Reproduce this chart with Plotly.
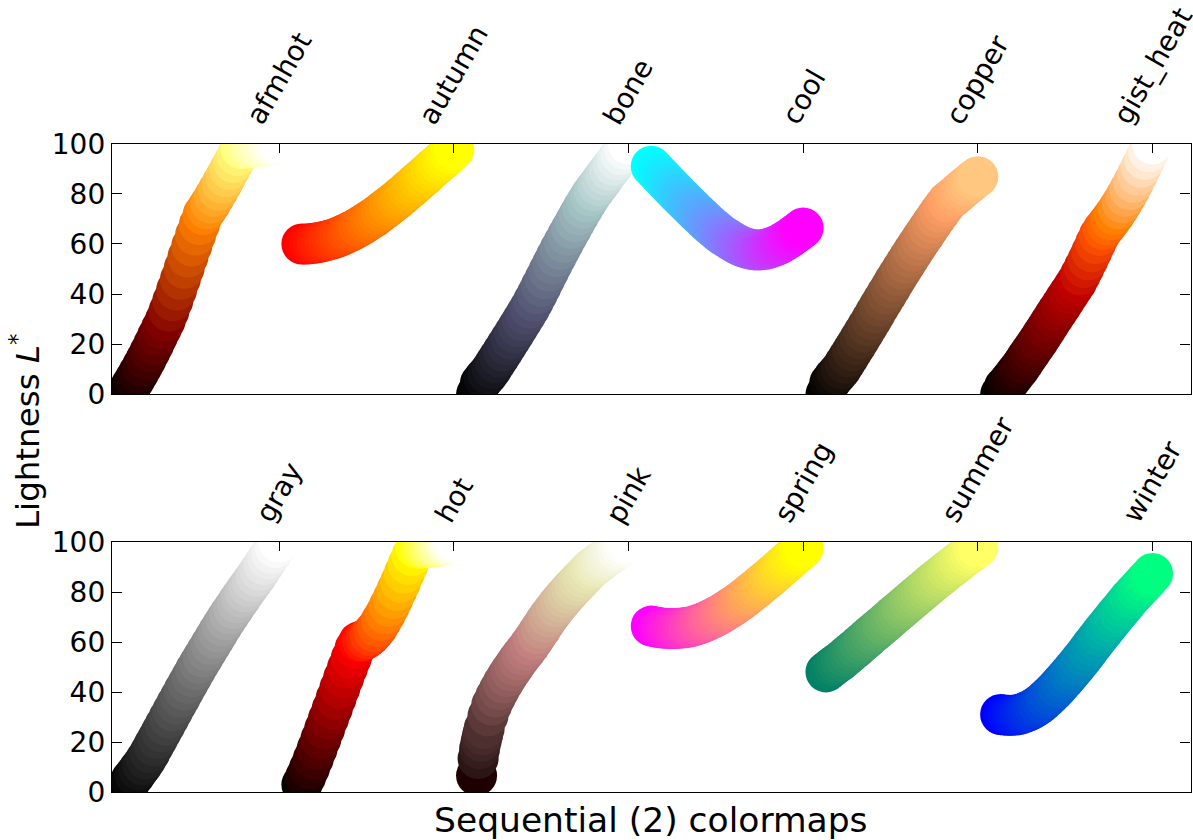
import plotly.graph_objects as go

# ---------------- data ----------------
TOP_NAMES = ["afmhot", "autumn", "bone", "cool", "copper", "gist_heat"]
BOTTOM_NAMES = ["gray", "hot", "pink", "spring", "summer", "winter"]

# colormap parameter values at which lightness was read
T = [0.000, 0.025, 0.050, 0.075, 0.100, 0.125, 0.150, 0.175, 0.200, 0.225,
     0.250, 0.275, 0.300, 0.325, 0.350, 0.375, 0.400, 0.425, 0.450, 0.475,
     0.500, 0.525, 0.550, 0.575, 0.600, 0.625, 0.650, 0.675, 0.700, 0.725,
     0.750, 0.775, 0.800, 0.825, 0.850, 0.875, 0.900, 0.925, 0.950, 0.975,
     1.000]
T_PINK = [0.000, 0.010, 0.020, 0.030, 0.040, 0.050, 0.075, 0.100, 0.125,
          0.150, 0.175, 0.200, 0.225, 0.250, 0.275, 0.300, 0.325, 0.350,
          0.375, 0.400, 0.425, 0.450, 0.475, 0.500, 0.525, 0.550, 0.575,
          0.600, 0.625, 0.650, 0.675, 0.700, 0.725, 0.750, 0.775, 0.800,
          0.825, 0.850, 0.875, 0.900, 0.925, 0.950, 0.975, 1.000]

# lightness L* of each colormap
L_AFMHOT = [0.0, 3.4, 5.9, 8.5, 11.2, 14.0, 17.0, 20.0, 23.2, 26.3, 29.4,
            33.2, 37.3, 41.6, 45.9, 50.3, 54.8, 59.2, 63.5, 67.7, 71.7, 74.0,
            76.3, 78.9, 81.5, 84.2, 86.9, 89.7, 92.5, 95.3, 98.1, 98.2, 98.4,
            98.5, 98.7, 98.85, 99.0, 99.25, 99.5, 99.7, 100.0]
L_AUTUMN = [60.0, 60.0, 60.1, 60.3, 60.5, 60.8, 61.1, 61.5, 61.9, 62.4, 63.0,
            63.7, 64.4, 65.1, 65.9, 66.8, 67.7, 68.7, 69.7, 70.6, 71.7, 72.9,
            74.0, 75.2, 76.4, 77.6, 78.9, 80.1, 81.5, 82.7, 84.1, 85.4, 86.7,
            88.1, 89.5, 90.8, 92.1, 93.5, 94.9, 96.2, 97.6]
L_BONE = [0.0, 4.4, 6.4, 8.1, 10.2, 12.6, 14.9, 17.3, 19.7, 22.1, 24.5, 27.0,
          29.4, 31.9, 34.4, 37.2, 40.1, 43.1, 46.1, 49.1, 52.1, 55.0, 57.9,
          60.7, 63.5, 66.2, 68.9, 71.6, 74.2, 76.7, 79.2, 81.3, 83.3, 85.4,
          87.5, 89.5, 91.5, 93.6, 95.7, 97.9, 100.0]
L_COOL = [91.0, 89.4, 87.8, 86.2, 84.6, 83.0, 81.5, 79.9, 78.4, 76.9, 75.4,
          73.9, 72.4, 71.0, 69.6, 68.2, 66.9, 65.6, 64.3, 63.2, 62.3, 61.3,
          60.4, 59.6, 58.9, 58.4, 58.0, 57.7, 57.6, 57.7, 57.9, 58.3, 58.8,
          59.4, 60.1, 61.0, 61.9, 63.0, 64.1, 65.2, 66.4]
L_COPPER = [0.0, 4.5, 6.6, 8.3, 10.1, 12.5, 14.9, 17.4, 19.8, 22.3, 24.8,
            27.3, 29.8, 32.4, 35.0, 37.5, 40.0, 42.5, 45.1, 47.5, 49.9, 52.3,
            54.7, 57.1, 59.4, 61.7, 63.9, 66.2, 68.4, 70.6, 72.7, 74.8, 76.8,
            78.1, 79.3, 80.6, 81.9, 83.2, 84.4, 85.7, 86.8]
L_GIST_HEAT = [0.0, 2.9, 4.6, 6.5, 8.5, 10.4, 12.6, 14.9, 17.1, 19.3, 21.5,
               23.9, 26.2, 28.6, 30.9, 33.2, 35.5, 37.9, 40.2, 42.5, 44.8,
               47.6, 50.6, 53.7, 56.9, 60.2, 63.4, 65.8, 67.7, 69.7, 71.7,
               74.0, 76.4, 79.0, 81.7, 84.6, 87.5, 90.6, 93.7, 96.8, 100.0]
L_GRAY = [0.0, 5.0, 6.9, 9.0, 11.0, 13.3, 15.9, 18.7, 21.4, 24.2, 26.9, 29.7,
          32.5, 35.3, 38.0, 40.8, 43.5, 46.2, 48.9, 51.5, 54.0, 56.5, 59.0,
          61.5, 64.0, 66.5, 68.9, 71.2, 73.4, 75.7, 77.9, 80.1, 82.2, 84.3,
          86.4, 88.7, 91.0, 93.3, 95.5, 97.8, 100.0]
L_HOT = [3.1, 6.2, 9.6, 13.4, 17.3, 21.3, 25.3, 29.4, 33.4, 37.5, 41.6, 45.7,
         49.7, 53.6, 57.5, 60.1, 60.5, 61.3, 62.5, 64.2, 66.1, 68.7, 71.3,
         74.3, 77.4, 80.7, 84.0, 87.6, 91.1, 94.6, 97.6, 97.6, 97.7, 97.8,
         97.9, 98.1, 98.4, 98.7, 99.0, 99.5, 100.0]
L_PINK = [6.7, 13.5, 17.4, 20.4, 23.0, 25.5, 30.5, 34.9, 38.1, 41.0, 43.7,
          46.2, 48.5, 50.7, 52.9, 54.9, 56.8, 58.8, 61.0, 63.3, 65.5, 67.9,
          70.1, 72.1, 74.1, 76.0, 77.8, 79.5, 81.2, 82.8, 84.4, 85.9, 87.5,
          89.1, 90.3, 91.4, 92.6, 93.7, 94.8, 95.9, 96.9, 97.9, 99.0, 100.0]
L_SPRING = [66.4, 66.1, 65.8, 65.6, 65.5, 65.45, 65.4, 65.5, 65.6, 65.8, 66.0,
            66.4, 66.9, 67.4, 68.0, 68.7, 69.4, 70.2, 71.0, 71.9, 72.9, 73.85,
            74.8, 75.9, 77.0, 78.2, 79.4, 80.6, 81.8, 83.1, 84.4, 85.65, 86.9,
            88.25, 89.6, 90.9, 92.2, 93.55, 94.9, 96.25, 97.6]
L_SUMMER = [48.1, 49.3, 50.5, 51.6, 52.7, 54.0, 55.3, 56.55, 57.8, 59.1, 60.4,
            61.75, 63.1, 64.35, 65.6, 66.9, 68.2, 69.55, 70.9, 72.15, 73.4,
            74.7, 76.0, 77.3, 78.6, 79.85, 81.1, 82.4, 83.7, 84.9, 86.1, 87.35,
            88.6, 89.75, 90.9, 92.1, 93.3, 94.45, 95.6, 96.75, 97.9]
L_WINTER = [31.1, 30.9, 30.8, 30.8, 30.9, 31.2, 31.7, 32.3, 33.0, 33.9, 34.9,
            36.1, 37.5, 38.9, 40.4, 42.0, 43.7, 45.4, 47.2, 49.0, 50.8, 52.7,
            54.6, 56.6, 58.6, 60.55, 62.5, 64.4, 66.3, 68.2, 70.1, 71.9, 73.7,
            75.6, 77.5, 79.1, 80.7, 82.4, 84.1, 85.75, 87.4]

Y_TICKS = [0, 20, 40, 60, 80, 100]
X_TITLE = "Sequential (2) colormaps"
Y_TITLE = "Lightness <i>L</i><sup>*</sup>"

# ---------------- styles ----------------
COLORSCALES = {
    "afmhot": [[0, "rgb(0,0,0)"], [0.25, "rgb(128,0,0)"], [0.5, "rgb(255,128,0)"],
               [0.75, "rgb(255,255,128)"], [1, "rgb(255,255,255)"]],
    "autumn": [[0, "rgb(255,0,0)"], [1, "rgb(255,255,0)"]],
    "bone": [[0, "rgb(0,0,0)"], [0.365079, "rgb(81,81,113)"],
             [0.746032, "rgb(166,198,198)"], [1, "rgb(255,255,255)"]],
    "cool": [[0, "rgb(0,255,255)"], [1, "rgb(255,0,255)"]],
    "copper": [[0, "rgb(0,0,0)"], [0.8, "rgb(255,159,101)"], [1, "rgb(255,199,127)"]],
    "gist_heat": [[0, "rgb(0,0,0)"], [0.5, "rgb(191,0,0)"], [0.6667, "rgb(255,85,0)"],
                  [0.75, "rgb(255,128,0)"], [1, "rgb(255,255,255)"]],
    "gray": [[0, "rgb(0,0,0)"], [1, "rgb(255,255,255)"]],
    "hot": [[0, "rgb(11,0,0)"], [0.365079, "rgb(255,0,0)"],
            [0.746032, "rgb(255,255,0)"], [1, "rgb(255,255,255)"]],
    "pink": [[0, "rgb(30,0,0)"], [0.01, "rgb(44,21,21)"], [0.02, "rgb(54,29,29)"],
             [0.03, "rgb(63,36,36)"], [0.04, "rgb(70,42,42)"], [0.05, "rgb(77,47,47)"],
             [0.1, "rgb(105,66,66)"], [0.15, "rgb(126,81,81)"], [0.2, "rgb(145,93,93)"],
             [0.25, "rgb(161,104,104)"], [0.3, "rgb(176,114,114)"],
             [0.35, "rgb(190,123,123)"], [0.365079, "rgb(194,126,126)"],
             [0.4, "rgb(198,139,132)"], [0.45, "rgb(203,156,140)"],
             [0.5, "rgb(208,171,147)"], [0.55, "rgb(213,185,154)"],
             [0.6, "rgb(218,198,161)"], [0.65, "rgb(223,211,168)"],
             [0.7, "rgb(228,222,174)"], [0.746032, "rgb(232,232,180)"],
             [0.8, "rgb(237,237,198)"], [0.85, "rgb(242,242,214)"],
             [0.9, "rgb(246,246,228)"], [0.95, "rgb(251,251,242)"],
             [1, "rgb(255,255,255)"]],
    "spring": [[0, "rgb(255,0,255)"], [1, "rgb(255,255,0)"]],
    "summer": [[0, "rgb(0,128,102)"], [1, "rgb(255,255,102)"]],
    "winter": [[0, "rgb(0,0,255)"], [1, "rgb(0,255,128)"]],
}

SERIES = {
    "afmhot": (T, L_AFMHOT), "autumn": (T, L_AUTUMN), "bone": (T, L_BONE),
    "cool": (T, L_COOL), "copper": (T, L_COPPER), "gist_heat": (T, L_GIST_HEAT),
    "gray": (T, L_GRAY), "hot": (T, L_HOT), "pink": (T_PINK, L_PINK),
    "spring": (T, L_SPRING), "summer": (T, L_SUMMER), "winter": (T, L_WINTER),
}

DC = 1.15          # horizontal spacing between colormaps
FONT = "DejaVu Sans"
W, H = 1193, 840
X_DOM = [112 / W, 1190.5 / W]
Y_DOM_TOP = [(H - 394.3) / H, (H - 143.7) / H]
Y_DOM_BOT = [(H - 792.3) / H, (H - 542.0) / H]

fig = go.Figure()

for p, names in enumerate([TOP_NAMES, BOTTOM_NAMES]):
    xa = "x" if p == 0 else "x2"
    ya = "y" if p == 0 else "y2"
    for j, name in enumerate(names):
        ts, ls = SERIES[name]
        fig.add_trace(go.Scatter(
            x=[t + j * DC for t in ts], y=ls, mode="markers",
            xaxis=xa, yaxis=ya, cliponaxis=True, showlegend=False, hoverinfo="skip",
            marker=dict(size=41, color=ts, colorscale=COLORSCALES[name],
                        cmin=0, cmax=1, line=dict(width=0)),
        ))
        fig.add_annotation(
            x=ts[-1] + j * DC, y=1, xref=xa, yref=ya + " domain",
            text=name, textangle=-60, showarrow=False,
            xanchor="center", yanchor="bottom", yshift=11,
            font=dict(family=FONT, size=28, color="black"),
        )

tick_locs = [1 + j * DC for j in range(6)]
xcommon = dict(range=[-0.1, 7.0], domain=X_DOM, side="top", ticks="inside",
               ticklen=9, tickwidth=1.1, tickcolor="black", tickvals=tick_locs,
               showticklabels=False, showline=True, linecolor="black",
               linewidth=1.3, mirror=True, showgrid=False, zeroline=False,
               automargin=False)
ycommon = dict(range=[0, 100], tickvals=Y_TICKS, ticks="inside", ticklen=10,
               tickwidth=1.1, tickcolor="black", showline=True, linecolor="black",
               linewidth=1.3, mirror="ticks", showgrid=False, zeroline=False,
               automargin=False,
               tickfont=dict(family=FONT, size=28, color="black"))

fig.update_layout(
    width=W, height=H, margin=dict(l=0, r=0, t=0, b=0, pad=0, autoexpand=False),
    plot_bgcolor="white", paper_bgcolor="white",
    font=dict(family=FONT, size=28, color="black"),
    xaxis=dict(anchor="y", **xcommon),
    yaxis=dict(anchor="x", domain=Y_DOM_TOP, **ycommon),
    xaxis2=dict(anchor="y2", **xcommon),
    yaxis2=dict(anchor="x2", domain=Y_DOM_BOT, **ycommon),
)

fig.add_annotation(
    x=(X_DOM[0] + X_DOM[1]) / 2, y=(H - 819.8) / H, xref="paper", yref="paper",
    text=X_TITLE, showarrow=False, xanchor="center", yanchor="middle",
    font=dict(family=FONT, size=34.5, color="black"),
)
fig.add_annotation(
    x=26 / W, y=(H - 432) / H, xref="paper", yref="paper",
    text=Y_TITLE, textangle=-90, showarrow=False, xanchor="center", yanchor="middle",
    font=dict(family=FONT, size=32.5, color="black"),
)

fig.write_html("out.html", config={"displayModeBar": False},
               post_script="document.body.style.margin='0px';")
